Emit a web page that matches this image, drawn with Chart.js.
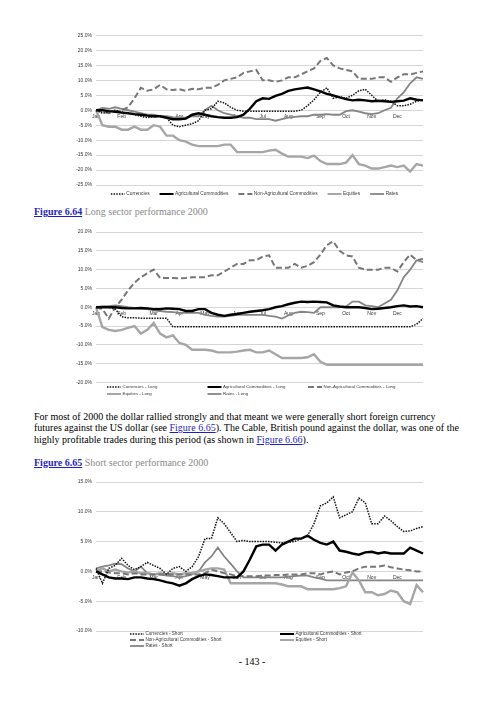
<!DOCTYPE html>
<html>
<head>
<meta charset="utf-8">
<script src="https://cdn.jsdelivr.net/npm/chart.js@4.4.1/dist/chart.umd.min.js"></script>
<style>
  body { margin: 0; background: #fff; }
  #page { position: relative; width: 500px; height: 706px; overflow: hidden; font-family: 'Liberation Serif', 'Times New Roman', serif; color: #000; }
  canvas { position: absolute; left: 0; }
  .txt { position: absolute; left: 34px; font-size: 10px; line-height: 12px; white-space: nowrap; }
  .cap { color: #8a8a8a; }
  .cap a { font-weight: bold; }
  a { color: #1f1fc4; text-decoration: underline; }
</style>
</head>
<body>
<div id="page">
  <canvas id="long-sector-all" width="500" height="180" style="top:25px"></canvas>
  <div class="txt cap" style="top:206px"><a>Figure 6.64</a> Long sector performance 2000</div>
  <canvas id="long-sector" width="500" height="180" style="top:222px"></canvas>
  <div class="txt" style="top:410.5px">For most of 2000 the dollar rallied strongly and that meant we were generally short foreign currency</div>
  <div class="txt" style="top:422.2px">futures against the US dollar (see <a>Figure 6.65</a>). The Cable, British pound against the dollar, was one of the</div>
  <div class="txt" style="top:433.9px">highly profitable trades during this period (as shown in <a>Figure 6.66</a>).</div>
  <div class="txt cap" style="top:456.5px"><a>Figure 6.65</a> Short sector performance 2000</div>
  <canvas id="short-sector" width="500" height="182" style="top:472px"></canvas>
  <div class="txt" style="top:655.5px; left:0; width:504px; text-align:center">- 143 -</div>
</div>
<script>
// weekly points through 2000, % return
const months = ['Jan', 'Feb', 'Mar', 'Apr', 'May', 'Jun', 'Jul', 'Aug', 'Sep', 'Oct', 'Nov', 'Dec'];
const monthStartWeek = [0, 4, 9, 13, 17, 22, 26, 30, 35, 39, 43, 47];

// Figure 6.64 (first panel)
const currencies = [0, -1, -0.5, 0, -0.5, -1, -1.5, -2, -2.5, -2, -2, -2.5, -5, -5.5, -5, -4.5, -3.5, 0, 0.5, 3, 2.5, 1, 0, -0.3, -0.3, -0.3, -0.3, -0.3, -0.3, -0.3, -0.3, -0.3, 0, 1.5, 3.5, 6, 7.5, 4, 4.5, 4, 5, 6.5, 7, 5, 3, 3.5, 3, 1.5, 1.5, 2, 3, 3.5];
const agriCommodities = [0, 0, -0.3, -0.5, -0.8, -1, -1.3, -1.5, -1.8, -2, -2, -2.5, -3, -3, -2.8, -1.5, -1, -1.5, -2, -2.3, -2.5, -2.5, -2.3, -1.5, 0.5, 3, 4, 3.8, 4.8, 5.5, 6.5, 7, 7.3, 7.6, 7, 6.3, 5.5, 5, 4.3, 3.7, 3.3, 3.5, 3.3, 3, 3.2, 3, 2.8, 3, 3.2, 4, 3.5, 3.3];
const nonAgriCommodities = [0, -0.5, -1, -0.5, 0, 1, 4, 7.5, 6.5, 7, 8.5, 7, 6.8, 7, 6.5, 7.2, 7, 7.5, 7.5, 8.5, 10, 10.5, 11, 12.5, 13, 13.5, 10, 10, 9.5, 10, 11, 11, 12, 13, 14, 16.5, 17.5, 15, 14, 13.5, 13, 10.5, 10.5, 10.5, 11, 11, 9.5, 11, 12, 12, 12.5, 13];
const equities = [0, -5, -5.5, -5.5, -6.5, -6.5, -5.5, -6.5, -6.5, -5, -5.5, -8.5, -8.5, -10, -10.5, -11.5, -12, -12, -12, -12, -11.5, -11.5, -14, -14, -14, -14, -14, -13.5, -13.2, -14.5, -15.5, -15.5, -15.5, -16, -15.2, -17, -18, -18, -18, -17.5, -15, -18, -18.5, -19.5, -19.5, -19, -18.5, -19, -18.5, -20.5, -18, -18.5];
const rates = [0, 0.8, 0.5, 1, 0.5, 0, -0.5, -1, -1.5, -1.5, -2, -2, -2.3, -2.5, -2.5, -2, -2, 0, 1.5, 0, -1, -1.5, -2, -2.5, -2.5, -3, -3, -3, -3.5, -3, -2.5, -2.2, -2, -2, -1.5, -1.5, -1.3, -1.5, -1.5, -0.3, 0, -0.5, -1, -1.3, -1, 0, 0.8, 4, 6, 9, 11, 10.5];

// Figure 6.64 (long only)
const currenciesLong = [0, 0, 0, -0.5, -2.5, -2.8, -2.8, -2.9, -2.9, -2.9, -2.9, -2.9, -5.2, -5.2, -5.2, -5.2, -5.2, -5.2, -5.2, -5.2, -5.2, -5.2, -5.2, -5.2, -5.2, -5.2, -5.2, -5.2, -5.2, -5.2, -5.2, -5.2, -5.2, -5.2, -5.2, -5.2, -5.2, -5.2, -5.2, -5.2, -5.2, -5.2, -5.2, -5.2, -5.2, -5.2, -5.2, -5.2, -5.2, -5.2, -4.5, -3];
const agriLong = [0, 0, 0, 0, -0.2, -0.3, -0.3, -0.2, -0.3, -0.5, -0.5, -0.3, -0.4, -0.5, -1, -1, -0.5, -0.5, -1.5, -2, -2.3, -2, -1.8, -1.5, -1.2, -1, -0.8, -0.5, 0, 0.3, 0.8, 1.2, 1.5, 1.4, 1.5, 1.4, 1.3, 0.5, 0.2, 0, 0, 0, -0.2, -0.5, -0.4, -0.2, 0, 0.3, 0.5, 0.2, 0.3, 0];
const nonAgriLong = [0, -0.5, -3, 0, 2, 4.5, 6.5, 8, 9, 10, 7.8, 7.8, 7.8, 7.7, 7.8, 8, 8, 8, 8.5, 8.5, 9.5, 10.5, 11.5, 11.5, 12.5, 12.5, 13.5, 13.8, 10.5, 10.5, 10.5, 11.5, 10.5, 11, 12, 14, 16.5, 17.5, 15, 13.8, 13.5, 10.5, 10, 10, 10, 10.5, 10.5, 9.5, 12, 14, 12.5, 12.8];
const equitiesLong = [0, -5.3, -6, -6.3, -6, -5.5, -5, -7, -6, -4.2, -7, -8, -7.5, -9.5, -10, -11.3, -11.3, -11.3, -11.5, -12, -12, -12, -11.8, -11.5, -11.3, -12, -12, -11.5, -12.5, -13.5, -13.5, -13.5, -13.5, -13.3, -12.5, -14.5, -15.3, -15.3, -15.3, -15.3, -15.3, -15.3, -15.3, -15.3, -15.3, -15.3, -15.3, -15.3, -15.3, -15.3, -15.3, -15.3];
const ratesLong = [0, 0.3, 0.3, 0.5, 0.3, 0, -0.2, -0.3, -0.5, -0.8, -1, -1.2, -1.3, -1.5, -1.5, -1.5, -1.5, -2, -2.3, -2.5, -2.5, -2.3, -2, -2, -2, -2, -2, -2.3, -2.5, -3, -2.2, -1.5, -1.2, -1.3, -1.5, 0, 0, 0, 0, 0.2, 1.5, 1.5, 0.5, 0.3, 0, 1, 2, 4.5, 8, 10, 12.5, 12];

// Figure 6.65 (short only)
const currenciesShort = [0.5, -2, 0.5, 1, 2.2, 1, 0.3, 0.8, 1.5, 1, 0.5, -0.5, 0.5, 0.8, 0, 0.8, 2.5, 5.5, 5.5, 9, 8, 6.5, 5, 5.2, 5, 5, 5, 5, 4.9, 4.8, 4.9, 5, 5.5, 6, 8, 11, 11.5, 12.5, 9, 9.5, 10, 12.3, 11.5, 8, 8, 9.3, 8.5, 7.5, 6.7, 6.8, 7.2, 7.5];
const agriShort = [0, -0.5, -1, -1.2, -1.2, -1.3, -1, -1, -1.2, -1.3, -1.5, -1.8, -2, -2.4, -2, -1.3, -0.8, -0.5, -0.6, -0.8, -1, -1, -1, 0, 2, 4.2, 4.5, 4.5, 3.5, 4.5, 5, 5.5, 5.5, 6, 5.3, 4.8, 4.5, 5, 3.5, 3.3, 3, 2.8, 3.2, 3.3, 3, 3.2, 3, 3, 3, 4, 3.5, 3];
const nonAgriShort = [0, 0, -0.2, -0.3, -0.3, -0.5, -0.3, -0.5, -0.5, -0.5, -0.5, -0.5, -0.5, -0.5, -0.5, -0.5, -0.5, -0.3, 0.3, 0, -0.3, -0.5, -0.8, -0.8, -0.8, -0.8, -0.7, -0.7, -0.6, -0.6, -0.5, -0.5, -0.5, -0.3, -0.3, -0.5, -0.2, 0, -0.5, -0.2, 0, 0.5, 0.8, 0.8, 0.8, 1, 0.7, 0.5, 0.3, 0.2, 0, 0];
const equitiesShort = [0, 0.5, 0, 0.3, 0, -0.2, 0, -0.3, -0.3, -0.5, -0.3, -0.5, -0.3, -0.5, -0.3, -0.3, 0, 0.3, 0.5, 0.5, 0.3, -2, -2, -2, -2, -2, -2, -2, -2, -2.2, -2.5, -2.5, -2.5, -3, -3, -3, -3, -3, -2.8, -2.5, -0.2, -1.5, -3.5, -3.5, -4, -3.8, -3.2, -3.5, -5, -5.5, -2.3, -3.5];
const ratesShort = [0.5, 0.8, 1, 1.3, 1.2, 0.5, 0, 0.8, -0.3, -0.5, -0.5, -0.7, -0.8, -1, -0.8, -0.5, 0, 1.5, 2.5, 4, 2.5, 1.3, 0, -1, -1, -1, -1, -1, -1, -1, -0.9, -0.8, -0.7, -0.7, -1, -1.2, -1.5, -1.5, -1.5, -1.5, -1.5, -1.5, -1.5, -1.5, -1.5, -1.5, -1.5, -1.5, -1.5, -1.5, -1.5, -1.5];

const weeks = currencies.map((_, i) => {
  const m = monthStartWeek.indexOf(i);
  return m >= 0 ? months[m] : '';
});

const TICK = '#383838';
Chart.defaults.font.family = "'Liberation Sans', Arial, sans-serif";

const line = {
  currencies: { borderColor: '#111', borderWidth: 1.5, borderDash: [1.5, 1.2] },
  agri: { borderColor: '#000', borderWidth: 2.4 },
  nonAgri: { borderColor: '#777', borderWidth: 2, borderDash: [6, 3] },
  equities: { borderColor: '#a6a6a6', borderWidth: 2.4 },
  rates: { borderColor: '#858585', borderWidth: 1.8 },
};

// excel-ish legend: either one centred row or a fixed grid of columns
const sectorLegend = {
  id: 'sectorLegend',
  afterDraw(chart, args, opts) {
    const { ctx, chartArea } = chart;
    const items = chart.data.datasets;
    ctx.save();
    ctx.font = `${opts.size}px ${Chart.defaults.font.family}`;
    ctx.textBaseline = 'middle';
    let pos;
    if (opts.cols) {
      pos = items.map((ds, i) => ({
        x: chartArea.left + opts.offset + (i % opts.cols) * opts.colWidth,
        y: chartArea.bottom + opts.top + Math.floor(i / opts.cols) * opts.rowHeight,
      }));
    } else {
      const widths = items.map((ds) => opts.lineLength + opts.gap + ctx.measureText(ds.label).width);
      const total = widths.reduce((a, b) => a + b, 0) + opts.spacing * (items.length - 1);
      let x = (chartArea.left + chartArea.right) / 2 - total / 2 + (opts.shift || 0);
      pos = widths.map((w) => {
        const p = { x, y: chartArea.bottom + opts.top };
        x += w + opts.spacing;
        return p;
      });
    }
    items.forEach((ds, i) => {
      const { x, y } = pos[i];
      ctx.beginPath();
      ctx.strokeStyle = ds.borderColor;
      ctx.lineWidth = Math.min(ds.borderWidth, 2);
      ctx.setLineDash(ds.borderDash || []);
      ctx.moveTo(x, y);
      ctx.lineTo(x + opts.lineLength, y);
      ctx.stroke();
      ctx.fillStyle = TICK;
      ctx.fillText(ds.label, x + opts.lineLength + opts.gap, y);
    });
    ctx.restore();
  },
};

function makeChart(id, series, yMin, yMax, pad, legend) {
  return new Chart(document.getElementById(id), {
    type: 'line',
    data: {
      labels: weeks,
      datasets: series.map(([label, data, style]) => ({
        label, data, ...style, pointRadius: 0, tension: 0, fill: false,
      })),
    },
    options: {
      responsive: false,
      animation: false,
      events: [],
      layout: { padding: { left: 66, right: 77, top: pad.top, bottom: pad.bottom } },
      plugins: { legend: { display: false }, tooltip: { enabled: false }, sectorLegend: legend },
      scales: {
        x: {
          position: { y: 0 },
          grid: { display: false, drawTicks: false },
          border: { display: false },
          ticks: { autoSkip: false, maxRotation: 0, padding: 3.5, color: TICK, font: { size: 5 } },
        },
        y: {
          min: yMin,
          max: yMax,
          afterFit: (axis) => { axis.width = 30; },
          grid: { color: '#d6d6d6', drawTicks: false },
          border: { display: false },
          ticks: { stepSize: 5, padding: 4, color: TICK, font: { size: 5 }, callback: (v) => v.toFixed(1) + '%' },
        },
      },
    },
    plugins: [sectorLegend],
  });
}

makeChart('long-sector-all', [
  ['Currencies', currencies, line.currencies],
  ['Agricultural Commodities', agriCommodities, line.agri],
  ['Non-Agricultural Commodities', nonAgriCommodities, line.nonAgri],
  ['Equities', equities, line.equities],
  ['Rates', rates, line.rates],
], -25, 25, { top: 10.5, bottom: 20 },
{ size: 4.8, lineLength: 14, gap: 1.5, spacing: 10, top: 9, shift: -5 });

makeChart('long-sector', [
  ['Currencies - Long', currenciesLong, line.currencies],
  ['Agricultural Commodities - Long', agriLong, line.agri],
  ['Non-Agricultural Commodities - Long', nonAgriLong, line.nonAgri],
  ['Equities - Long', equitiesLong, line.equities],
  ['Rates - Long', ratesLong, line.rates],
], -20, 20, { top: 10, bottom: 19.5 },
{ size: 4.4, lineLength: 14, gap: 1.5, cols: 3, offset: 11, colWidth: 100.5, top: 4.5, rowHeight: 7 });

makeChart('short-sector', [
  ['Currencies - Short', currenciesShort, line.currencies],
  ['Agricultural Commodities - Short', agriShort, line.agri],
  ['Non-Agricultural Commodities - Short', nonAgriShort, line.nonAgri],
  ['Equities - Short', equitiesShort, line.equities],
  ['Rates - Short', ratesShort, line.rates],
], -10, 15, { top: 10, bottom: 23 },
{ size: 4.6, lineLength: 14, gap: 1.5, cols: 2, offset: 34, colWidth: 150, top: 3, rowHeight: 6 });
</script>
</body>
</html>
